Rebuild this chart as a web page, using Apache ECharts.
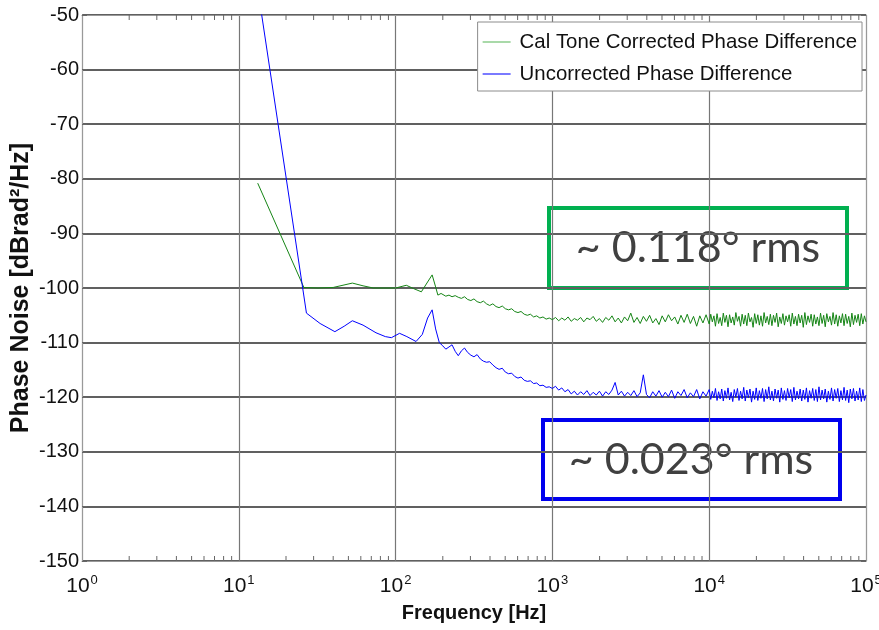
<!DOCTYPE html>
<html>
<head>
<meta charset="utf-8">
<script src="https://cdn.jsdelivr.net/npm/echarts@6/dist/echarts.min.js"></script>
<style>
  html, body { margin: 0; padding: 0; background: #fff; }
  #chart { width: 879px; height: 630px; }
</style>
</head>
<body>
<div id="chart"></div>
<script>
// x tick exponents (10^0 .. 10^5) and y ticks
const xTickExp = [0, 1, 2, 3, 4, 5]
const yTicks = [-150, -140, -130, -120, -110, -100, -90, -80, -70, -60, -50]

// low frequency part, read point by point [Hz, dB]
const greenLow = [
  [13.2, -80.8], [26, -99.9], [32, -100.0], [40, -99.9], [53, -99.1], [62, -99.6],
  [72, -100.0], [100, -100.0], [110, -99.7], [117, -99.5], [130, -100.1], [146, -100.7],
  [160, -98.9], [171, -97.6], [180, -99.8], [186, -101.3], [195, -101.0]
]
const blueLow = [
  [13.2, -45.1], [27, -104.6], [33, -106.5], [41, -108.0], [47, -107.0], [53, -106.0],
  [62, -106.8], [75, -108.2], [86, -108.9], [94, -109.1], [106, -108.3], [118, -108.9],
  [135, -109.8], [148, -108.5], [160, -105.5], [171, -104.0], [180, -107.5], [190, -110.0]
]

// noisy part, shared frequency grid
const freqHigh = [
  200, 209, 219, 229, 240, 251, 263, 275, 288, 302, 316, 331, 347, 363, 380, 398, 417, 437, 457, 479,
  501, 525, 550, 575, 603, 631, 661, 692, 724, 759, 794, 832, 871, 912, 955,
  1000, 1047, 1096, 1148, 1202, 1259, 1318, 1380, 1445, 1514, 1585, 1660, 1738, 1820, 1905, 1995, 2089, 2188, 2291, 2399,
  2512, 2630, 2754, 2884, 3020, 3162, 3311, 3467, 3631, 3802, 3981, 4169, 4365, 4571, 4786, 5012, 5248, 5495, 5754, 6026,
  6310, 6607, 6918, 7244, 7586, 7943, 8318, 8710, 9120, 9550,
  10000, 10230, 10470, 10720, 10960, 11220, 11480, 11750, 12020, 12300, 12590, 12880, 13180, 13490, 13800, 14130, 14450, 14790, 15140, 15490,
  15850, 16220, 16600, 16980, 17380, 17780, 18200, 18620, 19050, 19500, 19950, 20420, 20890, 21380, 21880, 22390, 22910, 23440, 23990, 24550,
  25120, 25700, 26300, 26920, 27540, 28180, 28840, 29510, 30200, 30900, 31620, 32360, 33110, 33880, 34670, 35480, 36310, 37150, 38020, 38900,
  39810, 40740, 41690, 42660, 43650, 44670, 45710, 46770, 47860, 48980, 50120, 51290, 52480, 53700, 54950, 56230, 57540, 58880, 60260, 61660,
  63100, 64570, 66070, 67610, 69180, 70790, 72440, 74130, 75860, 77620, 79430, 81280, 83180, 85110, 87100, 89130, 91200, 93330, 95500, 97720,
  100000
]
const greenHigh = [
  -101.2, -101.5, -101.3, -101.6, -101.4, -101.7, -101.9, -101.6, -102.1, -102.3, -102.0, -102.5, -102.7, -102.4, -102.9, -103.2, -102.9, -103.4, -103.6, -103.3,
  -103.8, -104.0, -103.8, -104.3, -104.5, -104.3, -104.8, -105.0, -104.8, -105.3, -105.1, -105.5, -105.3, -105.7, -105.5,
  -105.8, -105.4, -106.0, -105.5, -105.9, -105.3, -106.1, -105.6, -105.9, -105.4, -106.2, -105.5, -105.8, -105.2, -106.1, -105.6, -106.3, -105.4, -105.9, -105.1,
  -106.2, -105.5, -106.4, -105.3, -106.0, -104.6, -106.3, -105.4, -106.5, -105.2, -106.1, -105.0, -106.4, -105.6, -106.7, -105.1, -106.2, -104.9, -106.0, -105.3,
  -106.6, -105.0, -106.3, -104.8, -106.5, -105.2, -107.0, -105.1, -106.4, -104.9,
  -106.6, -104.8, -106.2, -105.1, -107.0, -104.7, -106.5, -105.4, -106.9, -104.6, -106.3, -105.0, -107.1, -104.9, -106.4, -105.3, -106.8, -104.5, -106.1, -105.2,
  -107.0, -104.8, -106.6, -105.0, -106.9, -104.6, -106.2, -105.4, -107.2, -104.7, -106.5, -104.9, -106.8, -105.1, -107.0, -104.5, -106.4, -105.2, -106.7, -104.8,
  -106.9, -105.0, -106.3, -104.6, -107.1, -105.3, -106.5, -104.7, -106.8, -105.1, -106.2, -104.9, -107.0, -104.6, -106.6, -105.2, -106.9, -104.8, -106.4, -105.0,
  -107.2, -104.5, -106.7, -105.1, -106.3, -104.8, -107.0, -104.9, -106.6, -105.3, -106.9, -104.6, -106.5, -105.0, -107.1, -104.7, -106.2, -105.2, -106.8, -104.5,
  -106.6, -104.9, -107.0, -105.1, -106.4, -104.7, -106.9, -104.8, -106.5, -105.2, -107.1, -104.6, -106.7, -105.0, -106.3, -104.8, -106.9, -104.7, -106.6, -105.1,
  -106.2
]
const blueHigh = [
  -110.6, -111.2, -110.8, -110.4, -111.6, -112.4, -111.5, -111.0, -111.8, -112.3, -112.6, -112.2, -113.0, -113.4, -113.6, -113.5, -114.1, -114.6, -114.9, -114.7,
  -115.4, -115.7, -115.6, -116.2, -116.5, -116.3, -116.9, -117.1, -117.0, -117.5, -117.4, -117.9, -117.8, -118.2, -118.1,
  -118.4, -118.0, -118.7, -118.3, -119.0, -118.6, -119.4, -118.9, -119.6, -119.0, -119.5, -118.8, -119.7, -119.1, -119.6, -118.9, -119.8, -119.0, -119.5, -118.7,
  -117.3, -119.6, -118.9, -119.8, -119.1, -119.7, -118.8, -119.9, -119.2, -115.9, -119.5, -120.1, -119.0, -119.8, -118.8, -120.0, -119.1, -119.9, -118.7, -120.2,
  -119.0, -119.7, -118.6, -120.1, -119.2, -119.9, -118.6, -120.3, -119.0, -119.8,
  -118.6, -120.4, -118.9, -120.1, -118.4, -120.6, -119.0, -120.3, -118.5, -120.7, -118.8, -120.2, -118.3, -120.5, -119.1, -120.8, -118.6, -120.0, -118.4, -120.6,
  -118.9, -120.3, -118.2, -120.7, -118.7, -120.1, -118.5, -120.9, -118.9, -120.4, -118.3, -120.6, -118.8, -120.2, -118.4, -120.8, -118.6, -120.3, -118.1, -120.5,
  -118.9, -120.7, -118.5, -120.2, -118.7, -120.9, -118.3, -120.4, -118.8, -120.6, -118.4, -120.1, -118.6, -120.8, -118.2, -120.5, -118.9, -120.3, -118.5, -120.7,
  -118.7, -120.4, -118.3, -120.9, -118.8, -120.2, -118.4, -120.6, -118.6, -120.8, -118.1, -120.5, -118.7, -120.3, -118.5, -120.9, -118.9, -120.4, -118.3, -120.7,
  -118.6, -120.2, -118.4, -120.8, -118.8, -120.5, -118.2, -120.6, -118.7, -121.0, -118.5, -120.3, -118.4, -120.7, -118.9, -120.5, -118.3, -120.8, -118.6, -120.6,
  -119.6
]

const seriesNames = ['Cal Tone Corrected Phase Difference', 'Uncorrected Phase Difference']

const greenData = greenLow.concat(freqHigh.map(function (f, i) { return [f, greenHigh[i]] }))
const blueData = blueLow.concat(freqHigh.map(function (f, i) { return [f, blueHigh[i]] }))

// minor tick positions 2..9 in every decade (axis decoration, not data)
let minorTicks = []
for (let e = 0; e < 5; e++) {
  for (let m = 2; m < 10; m++) minorTicks.push([m * Math.pow(10, e), -150])
}

const sans = "'Liberation Sans', Arial, sans-serif"

let myChart = echarts.init(document.getElementById('chart'))
let option = {
  animation: false,
  backgroundColor: '#fff',
  grid: { left: 82, right: 13, top: 15, bottom: 69, containLabel: false, outerBoundsMode: 'none' },
  legend: {
    orient: 'vertical',
    right: 17,
    top: 22,
    backgroundColor: '#fff',
    borderColor: '#8c8c8c',
    borderWidth: 1,
    padding: [10, 5, 7, 5],
    itemGap: 12,
    itemWidth: 28,
    itemHeight: 2,
    icon: 'rect',
    textStyle: { fontFamily: sans, fontSize: 20.4, color: '#111', padding: [0, 0, 0, 4] },
    data: [
      { name: seriesNames[0], itemStyle: { color: '#a9d9a9' } },
      { name: seriesNames[1], itemStyle: { color: '#7a7aff' } }
    ]
  },
  xAxis: [
    {
      type: 'log',
      logBase: 10,
      min: 1,
      max: 100000,
      position: 'bottom',
      name: 'Frequency [Hz]',
      nameLocation: 'middle',
      nameGap: 40,
      nameTextStyle: { fontFamily: sans, fontWeight: 'bold', fontSize: 20, color: '#111' },
      axisLine: { show: true, lineStyle: { color: '#999' } },
      axisTick: { show: false },
      axisLabel: {
        margin: 13,
        formatter: function (v) {
          let e = Math.round(Math.log10(v))
          if (xTickExp.indexOf(e) < 0) return ''
          return '{b|10}{s|' + e + '}'
        },
        rich: {
          b: { fontFamily: sans, fontSize: 21, color: '#111', lineHeight: 24 },
          s: { fontFamily: sans, fontSize: 13, color: '#111', verticalAlign: 'top', lineHeight: 24, padding: [0, 0, 12, 1] }
        }
      },
      splitLine: { show: true, lineStyle: { color: '#777', width: 1.2 } }
    },
    {
      type: 'log',
      logBase: 10,
      min: 1,
      max: 100000,
      position: 'top',
      axisLine: { show: true, lineStyle: { color: '#999' } },
      axisTick: { show: false },
      axisLabel: { show: false },
      splitLine: { show: false }
    }
  ],
  yAxis: [
    {
      type: 'value',
      min: -150,
      max: -50,
      interval: 10,
      name: 'Phase Noise [dBrad²/Hz]',
      nameLocation: 'middle',
      nameGap: 48,
      nameMoveOverlap: false,
      nameTextStyle: { fontFamily: sans, fontWeight: 'bold', fontSize: 25, color: '#111' },
      axisLine: { show: true, lineStyle: { color: '#999' } },
      axisTick: { show: true, inside: true, length: 5, lineStyle: { color: '#666' } },
      axisLabel: {
        fontFamily: sans, fontSize: 20, color: '#111', margin: 3,
        formatter: function (v) { return yTicks.indexOf(v) >= 0 ? String(v) : '' }
      },
      splitLine: { show: true, lineStyle: { color: '#606060', width: 1.8 } }
    },
    {
      type: 'value',
      min: -150,
      max: -50,
      interval: 10,
      position: 'right',
      axisLine: { show: true, lineStyle: { color: '#999' } },
      axisTick: { show: true, inside: true, length: 5, lineStyle: { color: '#666' } },
      axisLabel: { show: false },
      splitLine: { show: false }
    }
  ],
  series: [
    {
      name: seriesNames[0],
      type: 'line',
      data: greenData,
      showSymbol: false,
      symbol: 'none',
      color: '#158515',
      lineStyle: { width: 1 },
      z: 3
    },
    {
      name: seriesNames[1],
      type: 'line',
      data: blueData,
      showSymbol: false,
      symbol: 'none',
      color: '#0000ff',
      lineStyle: { width: 1 },
      z: 4
    },
    {
      // minor log ticks on the bottom and top edges, placed through the x scale
      name: 'minorTicks',
      type: 'custom',
      silent: true,
      data: minorTicks,
      z: 2,
      renderItem: function (params, api) {
        let bottom = api.coord([api.value(0), -150])
        let top = api.coord([api.value(0), -50])
        let st = { stroke: '#666', lineWidth: 1 }
        return {
          type: 'group',
          children: [
            { type: 'line', shape: { x1: bottom[0], y1: bottom[1], x2: bottom[0], y2: bottom[1] - 5 }, style: st },
            { type: 'line', shape: { x1: top[0], y1: top[1], x2: top[0], y2: top[1] + 5 }, style: st }
          ]
        }
      }
    }
  ],
  graphic: [
    {
      type: 'group',
      left: 547,
      top: 206,
      children: [
        { type: 'rect', shape: { x: 0, y: 0, width: 298, height: 80 }, style: { fill: '#fff', stroke: '#00b050', lineWidth: 4 } },
        { type: 'text', x: 149, y: 40, style: { text: '~ 0.118° rms', fontFamily: 'Lato, sans-serif', fontSize: 43, fill: '#404040', align: 'center', verticalAlign: 'middle' } }
      ]
    },
    {
      type: 'group',
      left: 541,
      top: 418,
      children: [
        { type: 'rect', shape: { x: 0, y: 0, width: 297, height: 79 }, style: { fill: '#fff', stroke: '#0000ee', lineWidth: 4 } },
        { type: 'text', x: 148, y: 40, style: { text: '~ 0.023° rms', fontFamily: 'Lato, sans-serif', fontSize: 43, fill: '#404040', align: 'center', verticalAlign: 'middle' } }
      ]
    }
  ]
}
myChart.setOption(option)

window.addEventListener('resize', function () {
  myChart.resize()
})
</script>
</body>
</html>
